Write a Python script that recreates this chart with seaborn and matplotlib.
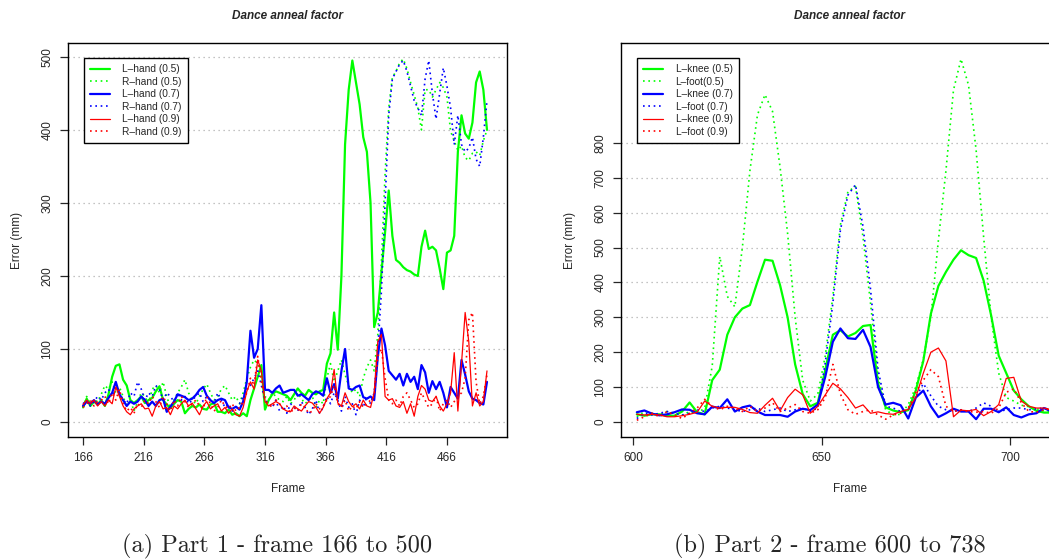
import numpy as np
import pandas as pd
import seaborn as sns
from matplotlib import pyplot as plt

sns.set_style("white")
plt.rcParams['font.family'] = ['Liberation Sans', 'DejaVu Sans']

# ---- part 1 : frame 166 to 500 (sampled every 3 frames) ----
frames_a = list(range(166, 500, 3))

l_hand_05 = [20, 32, 22, 28, 24, 30, 22, 38, 62, 77,
             79, 58, 50, 30, 26, 30, 35, 26, 30, 33,
             42, 49, 30, 24, 19, 25, 30, 28, 12, 18,
             22, 20, 24, 18, 17, 24, 26, 14, 14, 12,
             17, 10, 12, 8, 12, 8, 30, 46, 62, 78,
             17, 30, 38, 42, 40, 38, 36, 30, 38, 46,
             40, 36, 44, 40, 38, 42, 44, 80, 94, 150,
             99, 200, 380, 455, 495, 465, 435, 390, 370, 300,
             130, 150, 205, 260, 317, 255, 222, 218, 212, 208,
             206, 202, 200, 240, 262, 237, 240, 235, 210, 182,
             232, 235, 255, 370, 420, 395, 388, 410, 465, 480,
             455, 400]
r_hand_05 = [20, 35, 25, 30, 28, 38, 50, 45, 55, 40,
             48, 35, 22, 30, 15, 28, 40, 35, 25, 45,
             50, 40, 55, 35, 20, 30, 40, 48, 58, 40,
             30, 25, 35, 45, 52, 40, 30, 35, 45, 50,
             40, 30, 35, 25, 40, 60, 75, 85, 80, 60,
             35, 30, 40, 35, 30, 28, 35, 25, 30, 40,
             32, 25, 30, 35, 20, 30, 25, 60, 80, 55,
             70, 85, 65, 50, 40, 45, 35, 60, 75, 85,
             70, 120, 220, 340, 430, 472, 480, 492, 497, 484,
             465, 448, 430, 400, 455, 455, 445, 455, 465, 458,
             445, 398, 385, 372, 378, 362, 358, 368, 370, 365,
             385, 400]
l_hand_07 = [22, 28, 25, 30, 24, 28, 25, 33, 40, 55,
             38, 30, 22, 28, 25, 28, 35, 30, 22, 28,
             22, 30, 32, 14, 21, 28, 38, 36, 34, 30,
             32, 37, 44, 48, 36, 30, 26, 30, 32, 30,
             20, 18, 21, 17, 28, 55, 125, 88, 100, 160,
             44, 44, 40, 46, 50, 40, 42, 44, 44, 36,
             38, 34, 30, 38, 42, 40, 36, 60, 40, 52,
             32, 70, 100, 46, 44, 48, 50, 34, 32, 35,
             30, 90, 128, 105, 70, 64, 58, 66, 50, 66,
             55, 62, 45, 78, 68, 40, 56, 45, 55, 40,
             20, 48, 40, 32, 85, 65, 42, 32, 30, 26,
             24, 55]
r_hand_07 = [25, 30, 22, 28, 35, 30, 40, 45, 35, 50,
             40, 30, 25, 40, 35, 55, 45, 30, 40, 35,
             50, 45, 30, 40, 35, 28, 40, 30, 35, 25,
             30, 35, 40, 28, 35, 30, 25, 40, 30, 20,
             25, 15, 20, 25, 35, 45, 50, 60, 70, 50,
             30, 25, 20, 30, 15, 22, 12, 25, 20, 15,
             28, 20, 10, 18, 30, 12, 20, 35, 25, 40,
             30, 15, 35, 20, 25, 10, 30, 20, 35, 25,
             40, 100, 180, 300, 420, 470, 480, 490, 495, 480,
             460, 440, 430, 420, 470, 495, 450, 415, 450, 485,
             460, 430, 380, 420, 380, 370, 375, 390, 360, 350,
             390, 440]
l_hand_09 = [24, 30, 25, 30, 22, 28, 22, 30, 25, 48,
             35, 22, 14, 10, 18, 22, 25, 18, 19, 8,
             22, 28, 18, 20, 10, 22, 18, 25, 30, 22,
             26, 18, 10, 22, 28, 18, 22, 25, 15, 20,
             12, 18, 10, 8, 20, 42, 55, 45, 85, 70,
             28, 22, 25, 28, 25, 18, 15, 14, 22, 18,
             15, 22, 28, 26, 20, 12, 20, 32, 40, 72,
             26, 22, 40, 28, 21, 25, 18, 30, 22, 20,
             40, 110, 120, 35, 30, 32, 22, 20, 28, 12,
             25, 8, 35, 50, 45, 30, 28, 35, 22, 15,
             25, 40, 95, 15, 80, 150, 110, 22, 40, 22,
             28, 70]
r_hand_09 = [20, 25, 30, 22, 28, 30, 35, 25, 40, 30,
             45, 25, 15, 20, 12, 25, 20, 30, 25, 35,
             28, 20, 35, 25, 15, 30, 22, 35, 28, 20,
             25, 30, 22, 18, 35, 25, 15, 20, 30, 22,
             18, 25, 15, 20, 28, 40, 60, 50, 90, 55,
             30, 25, 20, 30, 25, 18, 22, 12, 20, 15,
             25, 20, 12, 15, 25, 18, 22, 30, 35, 50,
             25, 20, 30, 15, 22, 18, 28, 20, 25, 30,
             35, 90, 100, 60, 30, 25, 30, 22, 35, 40,
             30, 20, 25, 40, 30, 20, 25, 35, 15, 25,
             30, 20, 28, 35, 40, 60, 140, 150, 55, 25,
             35, 65]

# ---- part 2 : frame 600 to 738 (sampled every 2 frames) ----
frames_b = list(range(601, 712, 2))

l_knee_05 = [22, 18, 22, 22, 18, 18, 30, 56, 28, 22,
             120, 150, 250, 300, 325, 335, 402, 465, 462, 392,
             300, 165, 80, 45, 55, 150, 250, 263, 245, 255,
             275, 278, 110, 42, 33, 28, 34, 90, 175, 310,
             390, 430, 465, 492, 478, 470, 405, 305, 190, 140,
             90, 65, 45, 32, 27, 27]
l_foot_05 = [15, 30, 25, 20, 30, 25, 20, 30, 25, 40,
             160, 474, 360, 330, 500, 720, 880, 938, 890, 730,
             540, 300, 120, 60, 80, 190, 360, 565, 660, 675,
             530, 340, 130, 35, 20, 22, 50, 100, 180, 300,
             521, 720, 951, 1040, 965, 780, 530, 300, 140, 70,
             60, 48, 44, 38, 32, 30]
l_knee_07 = [28, 33, 24, 19, 22, 28, 36, 35, 25, 22,
             44, 40, 65, 30, 42, 47, 30, 20, 20, 20,
             15, 30, 38, 34, 50, 130, 230, 268, 240, 238,
             264, 215, 100, 50, 55, 48, 10, 70, 90, 45,
             14, 25, 38, 30, 30, 8, 38, 38, 28, 42,
             20, 13, 22, 25, 40, 30]
l_foot_07 = [10, 25, 20, 25, 30, 25, 20, 25, 35, 30,
             40, 45, 40, 35, 30, 35, 40, 30, 35, 40,
             30, 35, 40, 30, 40, 170, 340, 550, 650, 680,
             560, 380, 150, 45, 40, 30, 35, 70, 110, 75,
             45, 35, 30, 35, 30, 40, 55, 45, 30, 35,
             40, 40, 35, 38, 40, 35]
l_knee_09 = [22, 20, 22, 20, 15, 15, 18, 22, 28, 60,
             45, 40, 42, 42, 36, 27, 25, 48, 68, 32,
             70, 94, 78, 25, 45, 78, 111, 95, 70, 40,
             49, 25, 29, 24, 22, 30, 36, 70, 140, 200,
             212, 175, 15, 34, 32, 36, 18, 30, 50, 125,
             128, 60, 45, 40, 40, 34]
l_foot_09 = [5, 15, 25, 15, 30, 20, 10, 25, 40, 65,
             45, 35, 45, 40, 30, 45, 30, 40, 55, 30,
             40, 50, 30, 25, 35, 70, 165, 80, 35, 22,
             30, 35, 20, 8, 20, 25, 40, 85, 120, 150,
             130, 45, 30, 35, 30, 28, 30, 25, 40, 85,
             95, 55, 30, 28, 35, 40]

GREEN, BLUE, RED = "#00ff00", "#0000ff", "#ff0000"
DOT = (0, (1, 2.2))

series_a = [
    ("L\u2013hand (0.5)", l_hand_05, GREEN, "-", 1.6),
    ("R\u2013hand (0.5)", r_hand_05, GREEN, DOT, 1.2),
    ("L\u2013hand (0.7)", l_hand_07, BLUE, "-", 1.6),
    ("R\u2013hand (0.7)", r_hand_07, BLUE, DOT, 1.2),
    ("L\u2013hand (0.9)", l_hand_09, RED, "-", 0.9),
    ("R\u2013hand (0.9)", r_hand_09, RED, DOT, 1.2),
]
series_b = [
    ("L\u2013knee (0.5)", l_knee_05, GREEN, "-", 1.6),
    ("L\u2013foot(0.5)", l_foot_05, GREEN, DOT, 1.2),
    ("L\u2013knee (0.7)", l_knee_07, BLUE, "-", 1.6),
    ("L\u2013foot (0.7)", l_foot_07, BLUE, DOT, 1.2),
    ("L\u2013knee (0.9)", l_knee_09, RED, "-", 0.9),
    ("L\u2013foot (0.9)", l_foot_09, RED, DOT, 1.2),
]

W, H = 1049, 559
fig = plt.figure(figsize=(W / 100, H / 100), dpi=100)
ax1 = fig.add_axes([68 / W, 1 - 437 / H, 439 / W, 394 / H])
ax2 = fig.add_axes([621 / W, 1 - 437 / H, 458 / W, 394 / H])


def draw(ax, frames, series, xlim, ylim, xticks, yticks, leg_x):
    for name, vals, col, ls, lw in series:
        sns.lineplot(x=frames, y=vals, ax=ax, color=col, linestyle=ls,
                     linewidth=lw, label=name)
    ax.set_xlim(*xlim)
    ax.set_ylim(*ylim)
    ax.set_xticks(xticks)
    ax.set_yticks(yticks)
    for y in yticks:
        ax.axhline(y, color="#b0b0b0", lw=0.9, ls=(0, (1, 3)), zorder=0)
    for s in ax.spines.values():
        s.set_visible(True)
        s.set_color("black")
        s.set_linewidth(1.0)
    ax.tick_params(axis="both", direction="out", length=5.5, width=0.9,
                   labelsize=8.5, pad=5, bottom=True, left=True)
    ax.tick_params(axis="y", labelrotation=90)
    for t in ax.get_yticklabels():
        t.set_va("center")
    ax.set_xlabel("Frame", fontsize=8.5, labelpad=14)
    ax.set_ylabel("Error (mm)", fontsize=8.5, labelpad=13)
    ax.set_title("Dance anneal factor", fontsize=8.5, fontweight="bold",
                 fontstyle="italic", pad=17)
    leg = ax.legend(loc="upper left", bbox_to_anchor=(leg_x, 0.962),
                    borderaxespad=0, fontsize=7.3, frameon=True,
                    fancybox=False, edgecolor="black", framealpha=1,
                    handlelength=2.0, labelspacing=0.25, borderpad=0.6,
                    handletextpad=1.2)
    leg.get_frame().set_linewidth(1.0)


draw(ax1, frames_a, series_a, (153.6, 515.5), (-20.5, 519),
     list(range(166, 500, 50)), list(range(0, 501, 100)), 0.036)
draw(ax2, frames_b, series_b, (596.8, 718.3), (-43, 1086),
     [600, 650, 700], list(range(0, 801, 100)), 0.035)

fig.text(277 / W, 1 - 546 / H, "(a) Part 1 - frame 166 to 500",
         family="cmr10", fontsize=17.5, ha="center", va="center")
fig.text(830 / W, 1 - 546 / H, "(b) Part 2 - frame 600 to 738",
         family="cmr10", fontsize=17.5, ha="center", va="center")

fig.savefig("out.png", dpi=100)
